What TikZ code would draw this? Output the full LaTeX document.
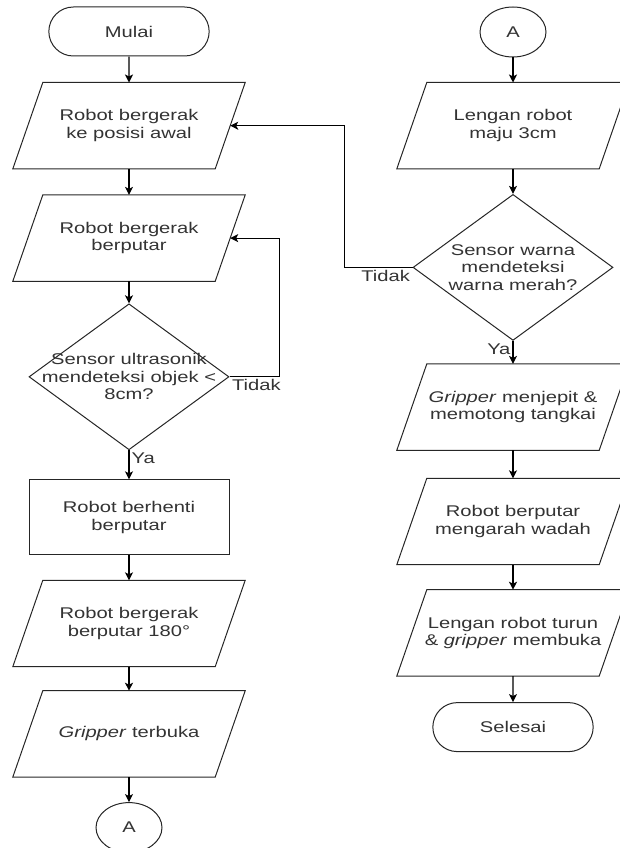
\documentclass[tikz,border=0pt]{standalone}
\usepackage{fontspec}
\setmainfont[FakeStretch=1.3]{Liberation Sans}
\usepackage{tikz}
\usetikzlibrary{shapes, arrows.meta, positioning}

\begin{document}
\begin{tikzpicture}[
        x=1pt, y=1pt,
        every node/.style={font=\fontsize{15.5}{17.5}\selectfont, text=black!80},
        border/.style={draw=black!85, line width=1pt},
        startstop/.style={rounded rectangle, border, fill=white, minimum width=167pt, minimum height=49pt},
        io/.style={rectangle, minimum width=202pt, minimum height=86pt, inner sep=0pt, align=center,
            append after command={\pgfextra{\draw[border] ([xshift=15pt]\tikzlastnode.north west) -- ([xshift=15pt]\tikzlastnode.north east) -- ([xshift=-15pt]\tikzlastnode.south east) -- ([xshift=-15pt]\tikzlastnode.south west) -- cycle;}}},
        process/.style={rectangle, border, fill=white, minimum width=200pt, minimum height=75pt, align=center},
        decision/.style={diamond, border, fill=white, minimum width=200pt, minimum height=146pt, inner sep=0pt},
        conn/.style={ellipse, border, fill=white, minimum width=66pt, minimum height=50pt},
        line/.style={draw, -{Stealth[length=8pt, width=8pt, inset=2pt]}, line width=1.2pt}
    ]
    \useasboundingbox (0,0) rectangle (619,-848);

    % kolom kiri
    \node [startstop] (mulai) at (129,-31.5) {Mulai};
    \node [io, below=26pt of mulai] (posisi) {Robot bergerak\\ke posisi awal};
    \node [io, below=26pt of posisi] (putar) {Robot bergerak\\berputar};
    \node [decision, below=22pt of putar, label={[align=center]center:Sensor ultrasonik\\mendeteksi objek <\\8cm?}] (ultra) {};
    \node [process, below=29pt of ultra] (henti) {Robot berhenti\\berputar};
    \node [io, below=25pt of henti] (putar180) {Robot bergerak\\berputar 180°};
    \node [io, below=24pt of putar180] (buka) {\textit{Gripper} terbuka};
    \node [conn, below=25pt of buka] (a1) {A};

    % kolom kanan
    \node [conn] (a2) at (513,-32) {A};
    \node [io, below=25pt of a2] (maju) {Lengan robot\\maju 3cm};
    \node [decision, below=25pt of maju, label={[align=center]center:Sensor warna\\mendeteksi\\warna merah?}] (warna) {};
    \node [io, below=23pt of warna] (jepit) {\textit{Gripper} menjepit \&\\memotong tangkai};
    \node [io, below=28pt of jepit] (wadah) {Robot berputar\\mengarah wadah};
    \node [io, below=25pt of wadah] (turun) {Lengan robot turun\\\& \textit{gripper} membuka};
    \node [startstop, below=26pt of turun] (selesai) {Selesai};

    \path [line] (mulai) -- (posisi);
    \path [line] (posisi) -- (putar);
    \path [line] (putar) -- (ultra);
    \path [line] (ultra) -- node [pos=0, anchor=north west, inner sep=2pt] {Ya} (henti);
    \path [line] (ultra.east) -- node [pos=0, anchor=north west, inner sep=2pt] {Tidak} ++(50,0) |- (putar.east);
    \path [line] (henti) -- (putar180);
    \path [line] (putar180) -- (buka);
    \path [line] (buka) -- (a1);

    \path [line] (a2) -- (maju);
    \path [line] (maju) -- (warna);
    \path [line] (warna) -- node [pos=0, anchor=north east, inner sep=2pt] {Ya} (jepit);
    \path [line] (warna.west) -- node [pos=0, anchor=north east, inner sep=2pt] {Tidak} ++(-68,0) |- (posisi.east);
    \path [line] (jepit) -- (wadah);
    \path [line] (wadah) -- (turun);
    \path [line] (turun) -- (selesai);

\end{tikzpicture}
\end{document}
